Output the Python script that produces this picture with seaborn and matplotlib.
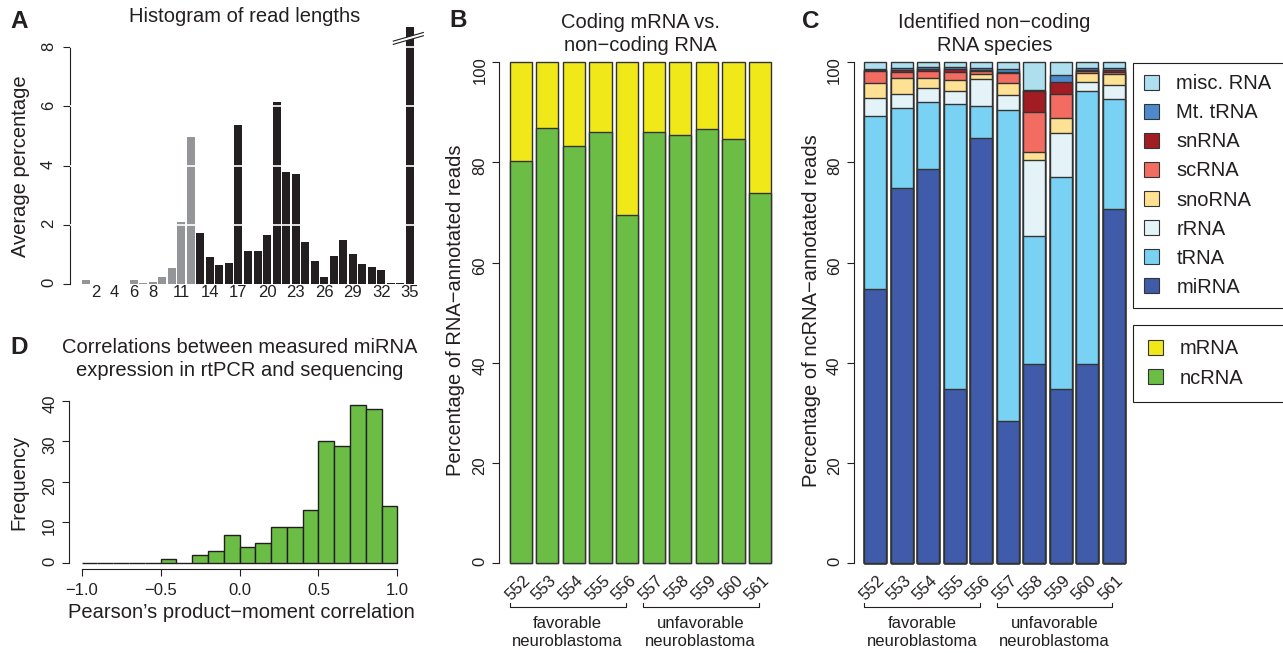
import numpy as np
import pandas as pd
import matplotlib
matplotlib.use("Agg")
import matplotlib.pyplot as plt
import matplotlib.transforms as mtrans
from matplotlib.patches import Patch, Polygon
import seaborn as sns

# ---- data ----
read_len = list(range(1, 36))
read_pct = [0.15, 0, 0, 0, 0, 0.15, 0.05, 0.08, 0.22, 0.53, 2.11, 4.97, 1.73, 0.90,
            0.65, 0.72, 5.38, 1.13, 1.13, 1.66, 6.15, 3.78, 3.71, 1.43, 0.79, 0.25,
            0.95, 1.50, 1.02, 0.68, 0.56, 0.48, 0.04, 0.04, 8.7]
read_ticks = [2, 4, 6, 8, 11, 14, 17, 20, 23, 26, 29, 32, 35]

samples = ['552', '553', '554', '555', '556', '557', '558', '559', '560', '561']
ncrna_pct = [80.2, 86.8, 83.3, 86.0, 69.5, 86.1, 85.5, 86.7, 84.7, 73.8]
mrna_pct = [19.8, 13.2, 16.7, 14.0, 30.5, 13.9, 14.5, 13.3, 15.3, 26.2]

mirna = [54.8, 74.8, 78.7, 34.8, 84.9, 28.4, 39.7, 34.7, 39.8, 70.8]
trna = [34.5, 16.1, 13.3, 56.9, 6.3, 62.1, 25.6, 42.3, 54.4, 21.9]
rrna = [3.6, 2.8, 2.9, 2.5, 5.5, 3.0, 15.2, 8.8, 1.9, 2.7]
snorna = [3.0, 3.2, 2.0, 2.2, 1.0, 2.4, 1.5, 3.0, 1.7, 2.3]
scrna = [2.3, 1.2, 1.3, 1.7, 0.5, 2.0, 8.0, 4.8, 0.4, 0.3]
snrna = [0.3, 0.4, 0.4, 0.5, 0.3, 0.2, 4.2, 2.4, 0.3, 0.4]
mt_trna = [0.2, 0.4, 0.4, 0.5, 0.3, 0.5, 0.3, 1.5, 0.4, 0.4]
misc_rna = [1.3, 1.1, 1.0, 0.9, 1.2, 1.4, 5.5, 2.5, 1.1, 1.2]

corr_edges = [round(-1 + 0.1 * i, 1) for i in range(21)]
corr_counts = [0, 0, 0, 0, 0, 1, 0, 2, 3, 7, 4, 5, 9, 9, 13, 30, 29, 39, 38, 14]

species = ['miRNA', 'tRNA', 'rRNA', 'snoRNA', 'scRNA', 'snRNA', 'Mt. tRNA', 'misc. RNA']
species_vals = [mirna, trna, rrna, snorna, scrna, snrna, mt_trna, misc_rna]
species_cols = ['#3f5ba9', '#79d1f3', '#e4f3f8', '#fee192', '#f26c61', '#a11d23',
                '#4b8bcb', '#addfee']
col_mrna, col_ncrna = '#f1e819', '#6bbd45'

# ---- style ----
ink = '#231f20'
plt.rcParams['font.family'] = ['Liberation Sans', 'DejaVu Sans']
plt.rcParams['text.color'] = ink
plt.rcParams['axes.labelcolor'] = ink
plt.rcParams['xtick.color'] = ink
plt.rcParams['ytick.color'] = ink
plt.rcParams['axes.edgecolor'] = ink
LAB, TICK, LET = 14.5, 12, 17.5

W, H = 1283, 653
fig = plt.figure(figsize=(W / 100, H / 100), dpi=100)


def add_ax(l, t, r, b):
    return fig.add_axes([l / W, 1 - b / H, (r - l) / W, (b - t) / H])


def r_axes(ax, ybounds, xbounds=None):
    for s in ['top', 'right']:
        ax.spines[s].set_visible(False)
    ax.spines['left'].set_bounds(*ybounds)
    if xbounds is None:
        ax.spines['bottom'].set_visible(False)
    else:
        ax.spines['bottom'].set_bounds(*xbounds)
    for s in ax.spines.values():
        s.set_linewidth(0.8)
    ax.tick_params(axis='y', labelrotation=90, length=5, width=0.8, pad=3.5, labelsize=TICK)
    ax.yaxis.label.set_va('center')
    ax.xaxis.label.set_va('center')


# ---- A: histogram of read lengths ----
axA = add_ax(70, 26, 420, 284)
dfA = pd.DataFrame({'length': [str(v) for v in read_len], 'pct': read_pct,
                    'group': ['short' if v <= 12 else 'long' for v in read_len]})
sns.barplot(data=dfA, x='length', y='pct', hue='group', order=dfA['length'],
            palette={'short': '#939598', 'long': ink}, dodge=False, legend=False,
            width=0.84, linewidth=0, saturation=1, errorbar=None, ax=axA)
axA.set_xlim(-1.68, 35.05)
axA.set_ylim(0, 8.72)
for yv in [2, 4, 6, 8]:
    axA.axhline(yv, color='white', lw=1.2, zorder=5)
r_axes(axA, (0, 8))
axA.set_yticks([0, 2, 4, 6, 8])
axA.tick_params(axis='y', pad=5)
axA.set_xticks([v - 1 for v in read_ticks])
axA.set_xticklabels([str(v) for v in read_ticks])
axA.tick_params(axis='x', length=0, pad=1, labelsize=TICK)
axA.set_xlabel('')
axA.set_ylabel('Average percentage', fontsize=LAB)
axA.yaxis.set_label_coords(-0.14, 0.457)
axA.set_title('Histogram of read lengths', fontsize=LAB, pad=0.5)
# axis break on the last bar
axA.add_patch(Polygon([[32.25, 8.21], [35.4, 8.5], [35.4, 8.39], [32.25, 8.10]],
                      closed=True, facecolor='white', edgecolor='none', zorder=6,
                      clip_on=False))
for y0, y1 in [(8.21, 8.5), (8.10, 8.39)]:
    axA.plot([32.25, 35.4], [y0, y1], color=ink, lw=0.8, zorder=7, clip_on=False)

# ---- D: correlation histogram ----
axD = add_ax(69, 398.7, 410, 569.3)
dfD = pd.DataFrame({'corr': [(a + b) / 2 for a, b in zip(corr_edges[:-1], corr_edges[1:])],
                    'count': corr_counts})
sns.histplot(data=dfD, x='corr', weights='count', bins=corr_edges, color=col_ncrna,
             edgecolor=ink, linewidth=1, alpha=1, ax=axD)
axD.set_xlim(-1.08, 1.08)
axD.set_ylim(-1.56, 40.56)
r_axes(axD, (0, 40), (-1, 1))
axD.set_yticks([0, 10, 20, 30, 40])
axD.set_xticks([-1, -0.5, 0, 0.5, 1])
axD.set_xticklabels(['\u22121.0', '\u22120.5', '0.0', '0.5', '1.0'])
axD.tick_params(axis='x', length=5, width=0.8, pad=5, labelsize=TICK)
axD.set_ylabel('Frequency', fontsize=LAB)
axD.yaxis.set_label_coords(-0.148, 0.509)
axD.set_xlabel('Pearson\u2019s product\u2212moment correlation', fontsize=LAB)
axD.xaxis.set_label_coords(0.506, -0.254)
axD.set_title('Correlations between measured miRNA\nexpression in rtPCR and sequencing',
              fontsize=LAB, pad=16.3, linespacing=1.25)


# ---- helpers for B and C ----
def sample_axis(ax):
    ax.set_xlim(-0.81, 9.81)
    ax.set_ylim(0, 100)
    for p in ax.patches:
        p.set_clip_on(False)
    r_axes(ax, (0, 100))
    ax.set_yticks([0, 20, 40, 60, 80, 100])
    ax.set_xticks(range(len(samples)))
    ax.set_xticklabels(samples, rotation=45, ha='right', va='center',
                       rotation_mode='anchor')
    ax.tick_params(axis='x', length=0, pad=11, labelsize=TICK)
    shift = mtrans.ScaledTranslation(7 / 100, 0, fig.dpi_scale_trans)
    for lab in ax.get_xticklabels():
        lab.set_transform(lab.get_transform() + shift)
    ax.set_xlabel('')
    tr = ax.get_xaxis_transform()
    for (i0, i1), txt in [((0, 4), 'favorable\nneuroblastoma'),
                          ((5, 9), 'unfavorable\nneuroblastoma')]:
        x0, x1 = i0 - 0.42, i1 - 0.05
        ax.plot([x0, x0, x1, x1], [-0.0799, -0.0879, -0.0879, -0.0799],
                color=ink, lw=0.8, transform=tr, clip_on=False)
        ax.text((x0 + x1) / 2, -0.139, txt, transform=tr, ha='center', va='center',
                fontsize=TICK, linespacing=1.2)


# ---- B: coding vs non-coding ----
axB = add_ax(499.2, 62.3, 781.6, 563)
dfB = pd.DataFrame({'sample': samples, 'ncRNA': ncrna_pct, 'mRNA': mrna_pct})
dfB['total'] = dfB['ncRNA'] + dfB['mRNA']
for col, c in [('total', col_mrna), ('ncRNA', col_ncrna)]:
    sns.barplot(data=dfB, x='sample', y=col, order=samples, color=c, saturation=1,
                width=0.84, edgecolor='#333333', linewidth=1, errorbar=None, ax=axB)
sample_axis(axB)
axB.set_ylabel('Percentage of RNA\u2212annotated reads', fontsize=LAB)
axB.yaxis.set_label_coords(-0.1565, 0.505)
axB.set_title('Coding mRNA vs.\nnon\u2212coding RNA', fontsize=LAB, pad=8.4,
              linespacing=1.25)

# ---- C: ncRNA species ----
axC = add_ax(853.7, 62.3, 1135.2, 563)
dfC = pd.DataFrame({'sample': samples})
cum = np.zeros(len(samples))
for name, vals in zip(species, species_vals):
    cum = cum + np.array(vals)
    dfC[name] = cum
for name, c in reversed(list(zip(species, species_cols))):
    sns.barplot(data=dfC, x='sample', y=name, order=samples, color=c, saturation=1,
                width=0.84, edgecolor='#333333', linewidth=1, errorbar=None, ax=axC)
sample_axis(axC)
axC.set_ylabel('Percentage of ncRNA\u2212annotated reads', fontsize=LAB)
axC.yaxis.set_label_coords(-0.149, 0.505)
axC.set_title('Identified non\u2212coding\nRNA species', fontsize=LAB, pad=8.4,
              linespacing=1.25)

# ---- legends ----
def frame_legend(names, cols, top, bottom, bpad):
    handles = [Patch(facecolor=c, edgecolor='#333333', linewidth=0.8) for c in cols]
    leg = fig.legend(handles, names, loc='upper left', mode='expand',
                     bbox_to_anchor=(1133 / W, 1 - bottom / H, 200 / W, (bottom - top) / H),
                     fontsize=LAB, frameon=True, fancybox=False, framealpha=1,
                     edgecolor=ink, borderpad=bpad, borderaxespad=0, labelspacing=0.5,
                     handlelength=0.75, handleheight=0.75, handletextpad=0.85)
    leg.get_frame().set_linewidth(0.8)


frame_legend(species[::-1], species_cols[::-1], 63, 306.7, 0.56)
frame_legend(['mRNA', 'ncRNA'], [col_mrna, col_ncrna], 325, 401.7, 0.72)

# ---- panel letters ----
for x, y, s in [(10, 28.3, 'A'), (449.3, 27.3, 'B'), (801.7, 27.5, 'C'), (10, 354, 'D')]:
    fig.text(x / W, 1 - y / H, s, fontsize=LET, fontweight='bold', va='baseline')

fig.savefig('out.png', dpi=100)
